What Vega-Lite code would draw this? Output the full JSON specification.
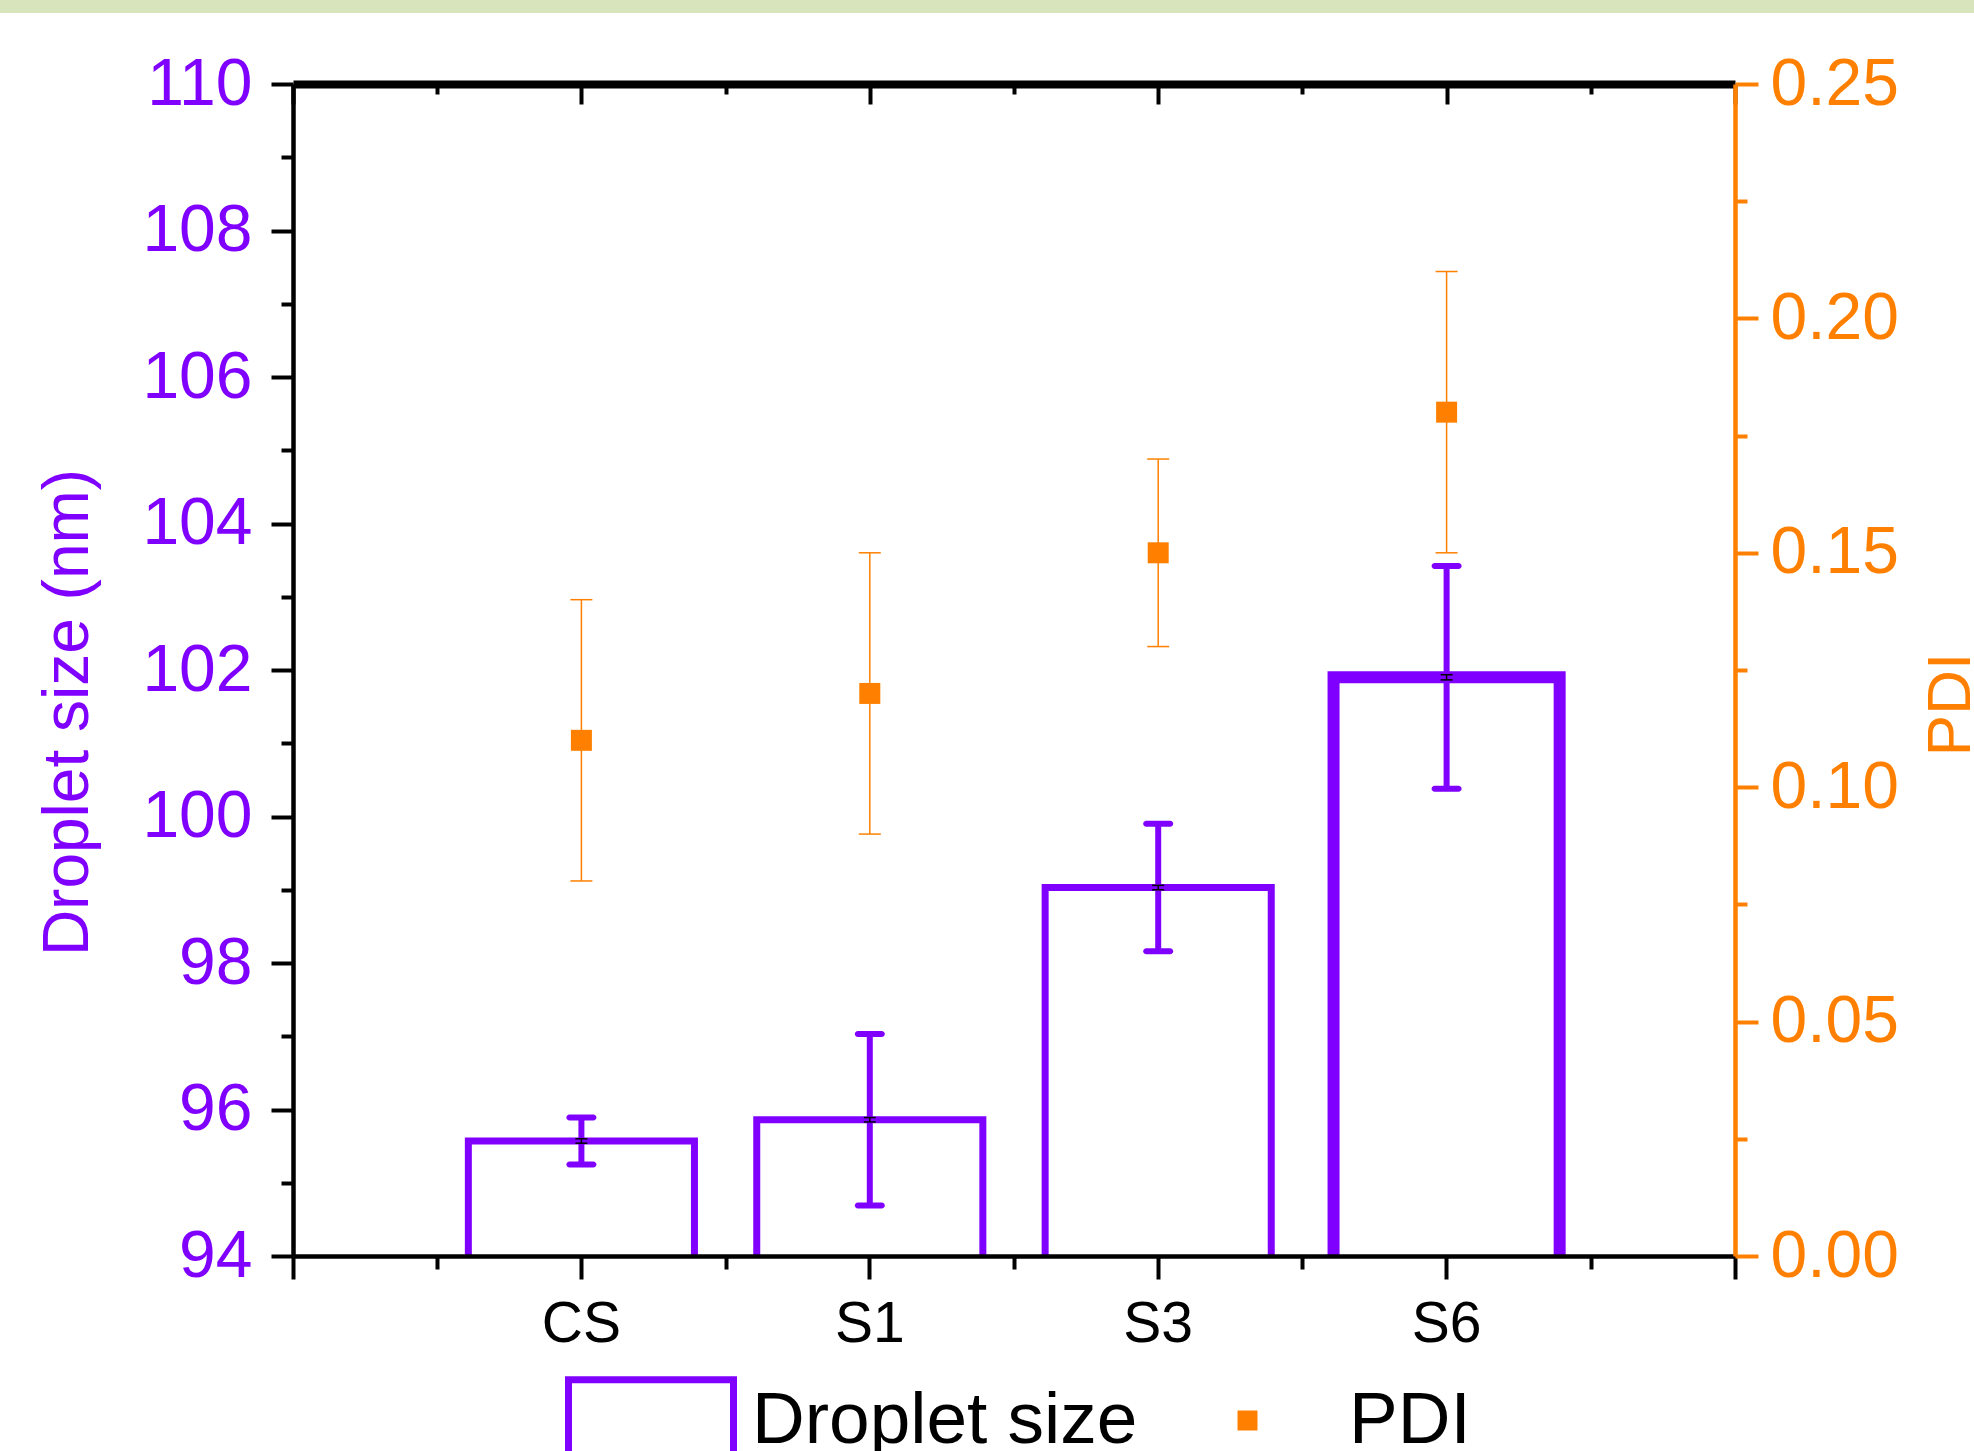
{
  "$schema": "https://vega.github.io/schema/vega-lite/v6.json",
  "width": 1442,
  "height": 1172,
  "autosize": {"type": "none"},
  "padding": {"left": 293, "top": 84, "right": 239, "bottom": 195},
  "background": "white",
  "config": {
    "view": {"stroke": null},
    "font": "Liberation Sans",
    "axis": {"grid": false, "labelFont": "Liberation Sans", "titleFont": "Liberation Sans", "titleFontWeight": "normal", "labelFlush": false, "labelOverlap": false},
    "legend": {"labelFont": "Liberation Sans"}
  },
  "data": {
    "values": [
      {"sample": "CS", "size": 95.57, "size_lo": 95.25, "size_hi": 95.89, "se_lo": 95.54, "se_hi": 95.6, "pdi": 0.11, "pdi_lo": 0.08, "pdi_hi": 0.14},
      {"sample": "S1", "size": 95.86, "size_lo": 94.69, "size_hi": 97.03, "se_lo": 95.83, "se_hi": 95.89, "pdi": 0.12, "pdi_lo": 0.09, "pdi_hi": 0.15},
      {"sample": "S3", "size": 99.03, "size_lo": 98.16, "size_hi": 99.9, "se_lo": 99.0, "se_hi": 99.06, "pdi": 0.15, "pdi_lo": 0.13, "pdi_hi": 0.17},
      {"sample": "S6", "size": 101.9, "size_lo": 100.38, "size_hi": 103.42, "se_lo": 101.865, "se_hi": 101.935, "pdi": 0.18, "pdi_lo": 0.15, "pdi_hi": 0.21}
    ]
  },
  "resolve": {"scale": {"x": "independent", "y": "independent"}, "axis": {"x": "independent", "y": "independent"}},
  "layer": [
    {
      "mark": {"type": "rect", "color": "#d8e4bc", "clip": false},
      "encoding": {
        "x": {"datum": -1.02, "type": "quantitative", "scale": {"domain": [0, 5], "nice": false, "zero": false},
          "axis": {"orient": "top", "values": [0, 1, 2, 3, 4, 5], "tickSize": -20, "tickWidth": 4, "tickColor": "black", "domainColor": "black", "domainWidth": 8, "labels": false, "title": null, "zindex": 1}},
        "x2": {"datum": 5.83},
        "y": {"datum": 111.15, "type": "quantitative", "scale": {"domain": [94, 110], "nice": false, "zero": false},
          "axis": {"orient": "left", "values": [95, 97, 99, 101, 103, 105, 107, 109], "tickSize": 12, "tickWidth": 4, "tickColor": "black", "domain": false, "labels": false, "title": null}},
        "y2": {"datum": 110.97}
      }
    },
    {
      "mark": {"type": "point", "opacity": 0},
      "encoding": {
        "x": {"datum": 0, "type": "quantitative", "scale": {"domain": [0, 5], "nice": false, "zero": false},
          "axis": {"orient": "top", "values": [0.5, 1.5, 2.5, 3.5, 4.5], "tickSize": -10, "tickWidth": 4, "tickColor": "black", "domain": false, "labels": false, "title": null}},
        "y": {"datum": 0, "type": "quantitative", "scale": {"domain": [0, 0.25], "nice": false, "zero": false},
          "axis": {"orient": "right", "values": [0.025, 0.075, 0.125, 0.175, 0.225], "tickSize": 12, "tickWidth": 4, "tickColor": "#ff8000", "domain": false, "labels": false, "title": null}}
      }
    },
    {
      "mark": {"type": "point", "opacity": 0},
      "encoding": {
        "x": {"datum": 0, "type": "quantitative", "scale": {"domain": [0, 5], "nice": false, "zero": false},
          "axis": {"orient": "bottom", "values": [0, 5], "tickSize": 23, "tickWidth": 4, "tickColor": "black", "domain": false, "labels": false, "title": null, "zindex": 1}}
      }
    },
    {
      "mark": {"type": "point", "opacity": 0},
      "encoding": {
        "x": {"datum": 0, "type": "quantitative", "scale": {"domain": [0, 5], "nice": false, "zero": false},
          "axis": {"orient": "bottom", "values": [0.5, 1.5, 2.5, 3.5, 4.5], "tickSize": 13, "tickWidth": 4, "tickColor": "black", "domain": false, "labels": false, "title": null, "zindex": 1}}
      }
    },
    {
      "encoding": {
        "x": {"field": "sample", "type": "nominal",
          "scale": {"type": "band", "domain": ["CS", "S1", "S3", "S6"], "paddingInner": 0.216, "paddingOuter": 0.608},
          "axis": {"orient": "bottom", "title": null, "labelAngle": 0, "tickSize": 23, "tickWidth": 4, "tickColor": "black", "domainColor": "black", "domainWidth": 4.5, "labelColor": "black", "labelFontSize": 57, "labelPadding": 17, "zindex": 1}}
      },
      "layer": [
        {
          "transform": [{"filter": "datum.sample !== 'S6'"}],
          "mark": {"type": "bar", "filled": false, "strokeWidth": 7, "clip": true},
          "encoding": {
            "y": {"field": "size", "type": "quantitative", "title": "Droplet size (nm)", "scale": {"domain": [94, 110], "nice": false, "zero": false},
              "axis": {"orient": "left", "values": [94, 96, 98, 100, 102, 104, 106, 108, 110], "format": "d", "tickSize": 22, "tickWidth": 4, "tickColor": "black", "domainColor": "black", "domainWidth": 4.5, "labelColor": "#8000ff", "labelFontSize": 66, "labelPadding": 19, "title": "Droplet size (nm)", "titleColor": "#8000ff", "titleFontSize": 64, "titleAngle": 270, "titleX": -206, "titleY": 628, "titleAlign": "center", "titleBaseline": "alphabetic", "zindex": 1}},
            "y2": {"datum": 93.9},
            "stroke": {"datum": "Droplet size", "type": "nominal",
              "scale": {"domain": ["Droplet size"], "range": ["#8000ff"]},
              "legend": {
                "orient": "none", "legendX": 272, "legendY": 1251, "direction": "horizontal", "title": null,
                "symbolType": "M-1,-0.5H1V1.6H-1Z", "symbolSize": 27225, "symbolStrokeWidth": 7, "symbolFillColor": "white",
                "labelFontSize": 73, "labelColor": "black", "labelOffset": 15, "labelLimit": 0
              }
            }
          }
        },
        {
          "transform": [{"filter": "datum.sample === 'S6'"}],
          "mark": {"type": "bar", "filled": false, "strokeWidth": 12, "clip": true},
          "encoding": {
            "y": {"field": "size", "type": "quantitative", "title": "Droplet size (nm)",
              "axis": {"orient": "left", "values": [94, 96, 98, 100, 102, 104, 106, 108, 110], "format": "d", "tickSize": 22, "tickWidth": 4, "tickColor": "black", "domainColor": "black", "domainWidth": 4.5, "labelColor": "#8000ff", "labelFontSize": 66, "labelPadding": 19, "title": "Droplet size (nm)", "titleColor": "#8000ff", "titleFontSize": 64, "titleAngle": 270, "titleX": -206, "titleY": 628, "titleAlign": "center", "titleBaseline": "alphabetic", "zindex": 1}},
            "y2": {"datum": 93.9},
            "stroke": {"datum": "Droplet size", "type": "nominal"}
          }
        },
        {
          "mark": {"type": "errorbar", "color": "#8000ff", "thickness": 6, "ticks": {"size": 30, "thickness": 6, "color": "#8000ff", "cornerRadius": 3, "opacity": 1}},
          "encoding": {
            "y": {"field": "size_lo", "type": "quantitative", "title": "Droplet size (nm)",
              "axis": {"orient": "left", "values": [94, 96, 98, 100, 102, 104, 106, 108, 110], "format": "d", "tickSize": 22, "tickWidth": 4, "tickColor": "black", "domainColor": "black", "domainWidth": 4.5, "labelColor": "#8000ff", "labelFontSize": 66, "labelPadding": 19, "title": "Droplet size (nm)", "titleColor": "#8000ff", "titleFontSize": 64, "titleAngle": 270, "titleX": -206, "titleY": 628, "titleAlign": "center", "titleBaseline": "alphabetic", "zindex": 1}},
            "y2": {"field": "size_hi"}
          }
        },
        {
          "mark": {"type": "errorbar", "color": "black", "thickness": 1.5, "ticks": {"size": 12, "thickness": 1.5, "color": "black", "opacity": 1}},
          "encoding": {
            "y": {"field": "se_lo", "type": "quantitative", "title": "Droplet size (nm)",
              "axis": {"orient": "left", "values": [94, 96, 98, 100, 102, 104, 106, 108, 110], "format": "d", "tickSize": 22, "tickWidth": 4, "tickColor": "black", "domainColor": "black", "domainWidth": 4.5, "labelColor": "#8000ff", "labelFontSize": 66, "labelPadding": 19, "title": "Droplet size (nm)", "titleColor": "#8000ff", "titleFontSize": 64, "titleAngle": 270, "titleX": -206, "titleY": 628, "titleAlign": "center", "titleBaseline": "alphabetic", "zindex": 1}},
            "y2": {"field": "se_hi"}
          }
        }
      ]
    },
    {
      "encoding": {
        "x": {"field": "sample", "type": "nominal",
          "scale": {"type": "band", "domain": ["CS", "S1", "S3", "S6"], "paddingInner": 0.216, "paddingOuter": 0.608},
          "axis": null}
      },
      "layer": [
        {
          "mark": {"type": "errorbar", "color": "#ff8000", "thickness": 1.5, "ticks": {"size": 22, "thickness": 1.5, "color": "#ff8000", "opacity": 1}},
          "encoding": {
            "y": {"field": "pdi_lo", "type": "quantitative", "title": "PDI", "scale": {"domain": [0, 0.25], "nice": false, "zero": false},
              "axis": {"orient": "right", "values": [0, 0.05, 0.1, 0.15, 0.2, 0.25], "format": ".2f", "tickSize": 23, "tickWidth": 4, "tickColor": "#ff8000", "domainColor": "#ff8000", "domainWidth": 4.5, "labelColor": "#ff8000", "labelFontSize": 66, "labelPadding": 12, "title": "PDI", "titleColor": "#ff8000", "titleFontSize": 62, "titleAngle": 270, "titleX": 234, "titleY": 620, "titleAlign": "center", "titleBaseline": "alphabetic", "zindex": 1}},
            "y2": {"field": "pdi_hi"}
          }
        },
        {
          "mark": {"type": "point", "shape": "square", "filled": true, "size": 441, "opacity": 1, "strokeWidth": 0},
          "encoding": {
            "y": {"field": "pdi", "type": "quantitative", "title": "PDI",
              "axis": {"orient": "right", "values": [0, 0.05, 0.1, 0.15, 0.2, 0.25], "format": ".2f", "tickSize": 23, "tickWidth": 4, "tickColor": "#ff8000", "domainColor": "#ff8000", "domainWidth": 4.5, "labelColor": "#ff8000", "labelFontSize": 66, "labelPadding": 12, "title": "PDI", "titleColor": "#ff8000", "titleFontSize": 62, "titleAngle": 270, "titleX": 234, "titleY": 620, "titleAlign": "center", "titleBaseline": "alphabetic", "zindex": 1}},
            "fill": {"datum": "PDI", "type": "nominal",
              "scale": {"domain": ["PDI"], "range": ["#ff8000"]},
              "legend": {
                "orient": "none", "legendX": 918, "legendY": 1300, "direction": "horizontal", "title": null,
                "symbolType": "square", "symbolSize": 400, "symbolStrokeWidth": 0, "symbolOpacity": 1,
                "labelFontSize": 73, "labelColor": "black", "labelOffset": 65, "labelLimit": 0
              }
            }
          }
        }
      ]
    }
  ]
}
